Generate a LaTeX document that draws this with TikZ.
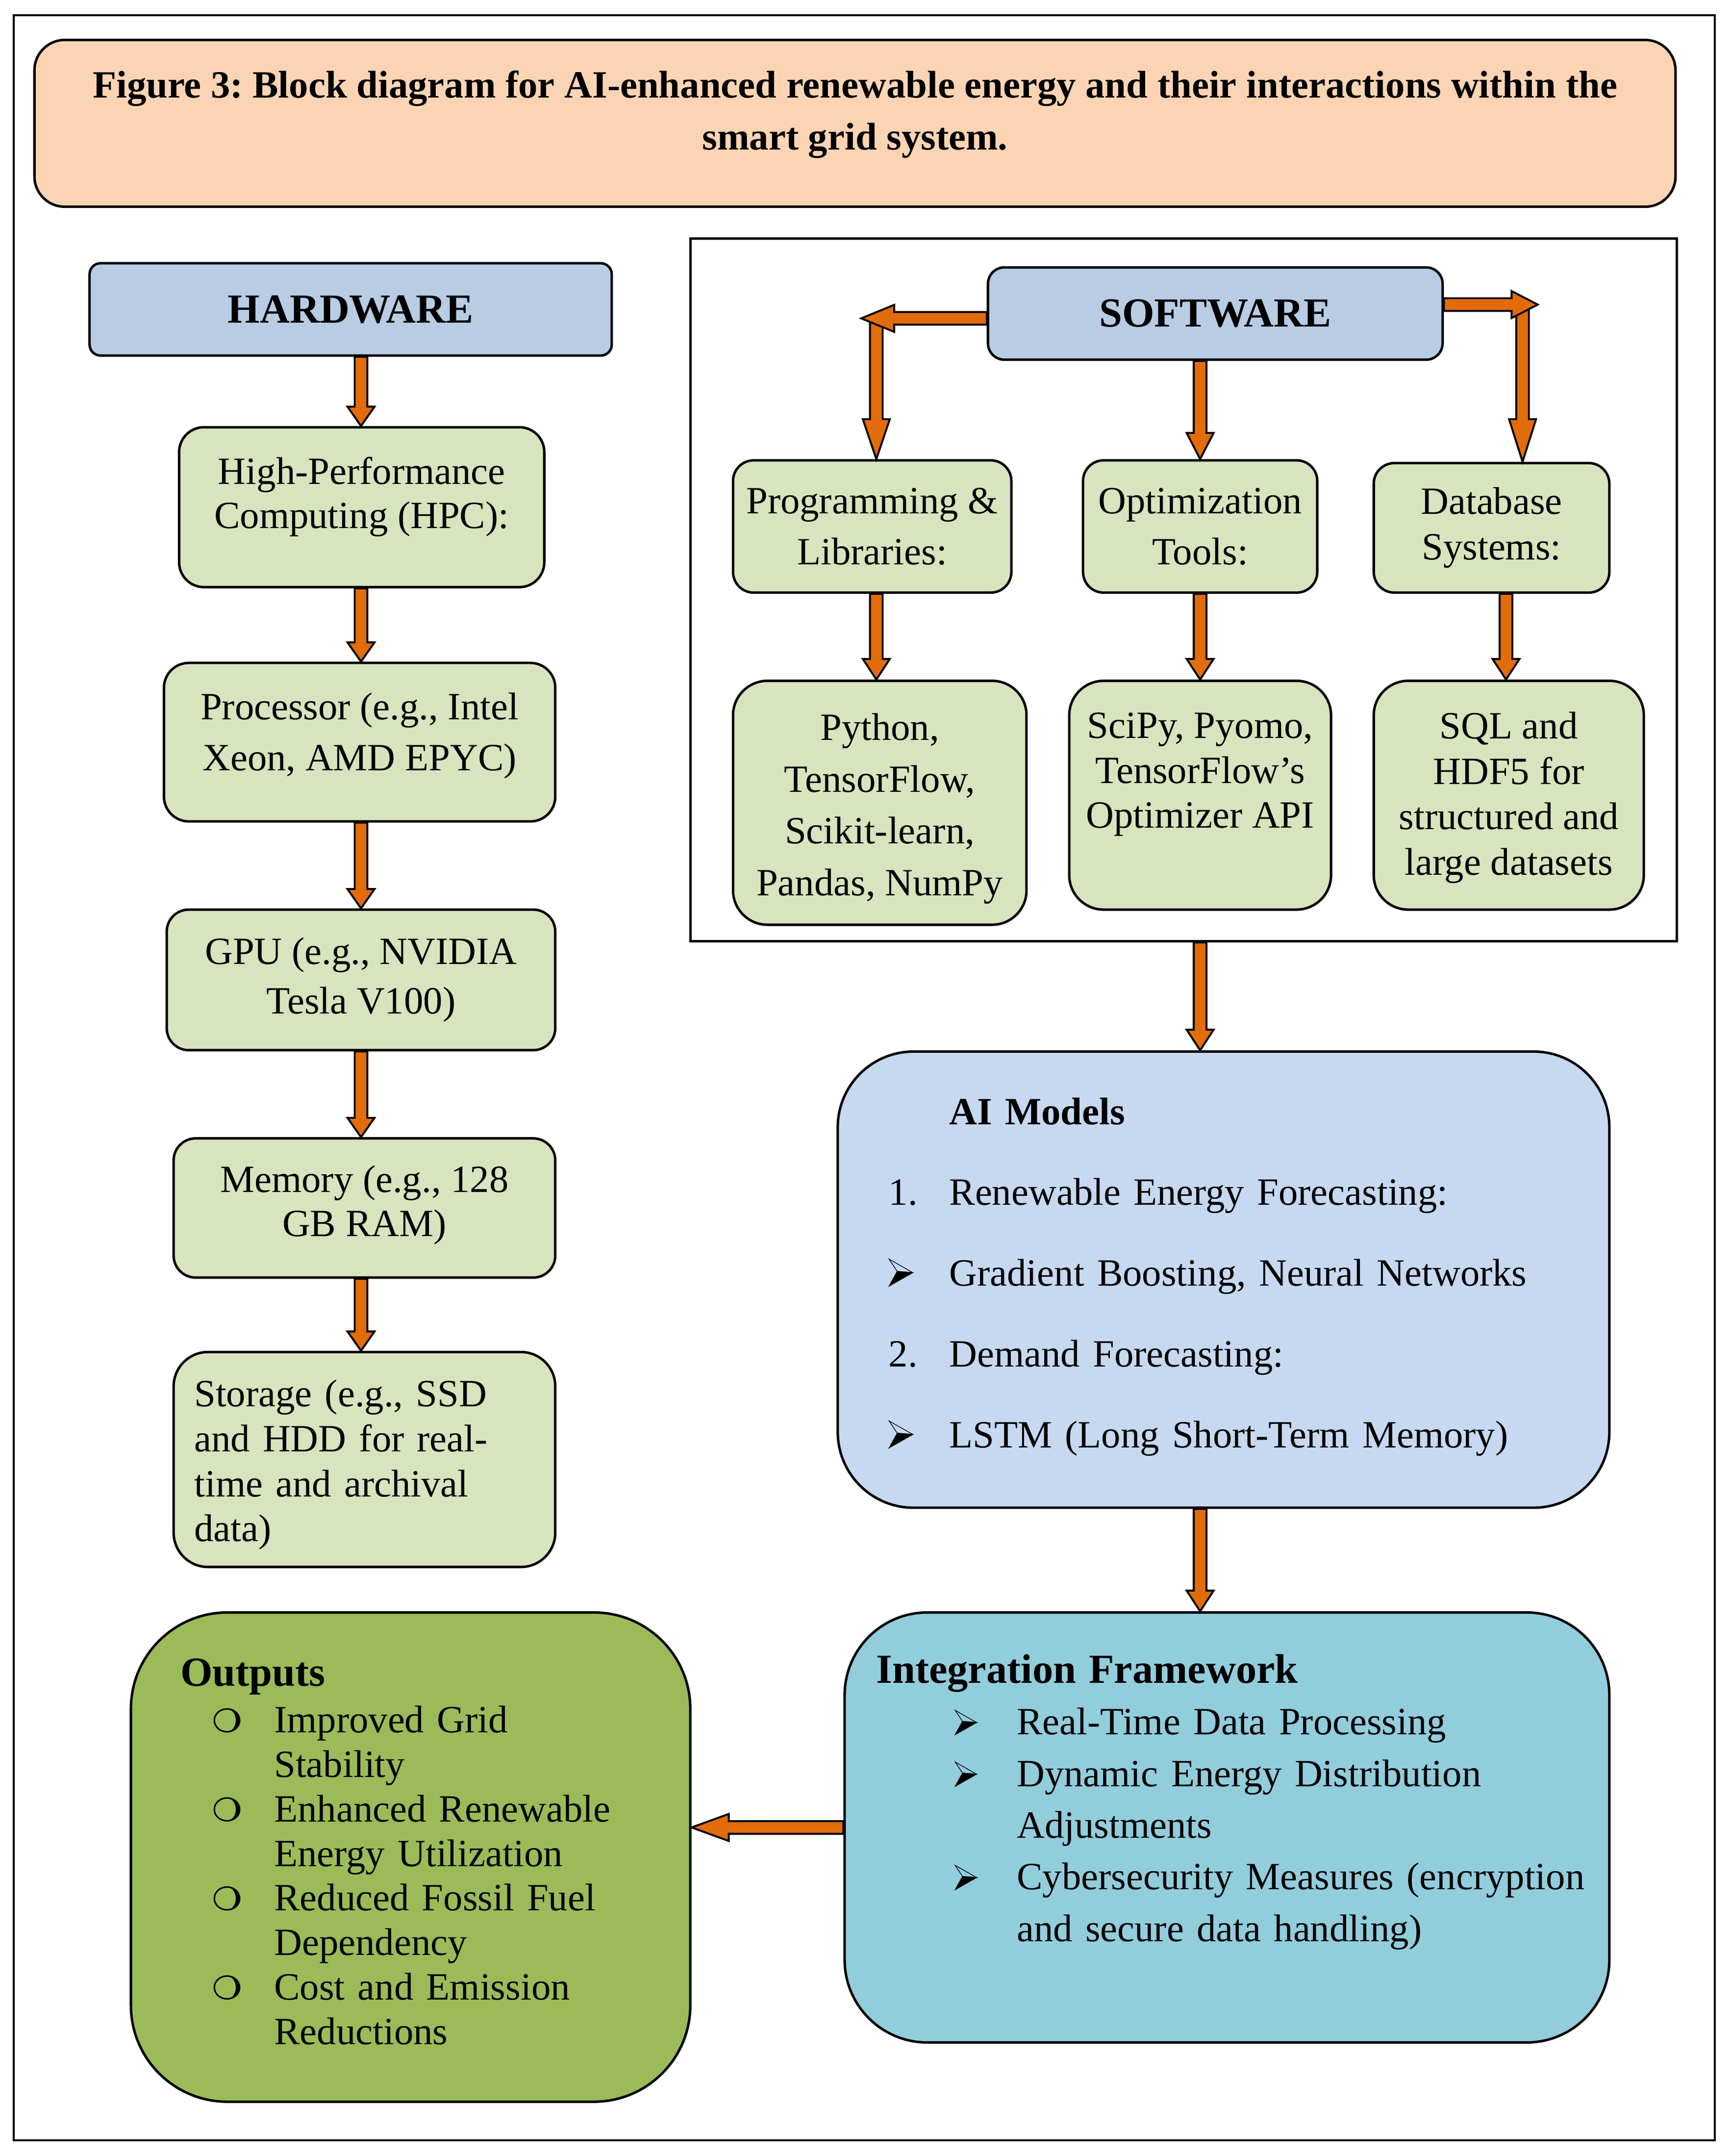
\documentclass[tikz,border=0pt]{standalone}
\usepackage{fontspec}
\setmainfont{Liberation Serif}
\usetikzlibrary{calc}
\definecolor{peach}{HTML}{FBD4B4}
\definecolor{hdrblue}{HTML}{B8CCE4}
\definecolor{lgreen}{HTML}{D7E4BD}
\definecolor{aiblue}{HTML}{C6D9F1}
\definecolor{aquabox}{HTML}{92CDDC}
\definecolor{outgreen}{HTML}{9BBB59}
\definecolor{arrorange}{HTML}{E36C0A}
\newsavebox\arrAbox
\newsavebox\arrIbox
\newsavebox\circbox
\newcommand{\arrowglyph}[1]{\begin{pgfpicture}\pgfsetbaseline{0pt}\pgftransformscale{#1}%
 \pgfsetlinewidth{0.5pt}\pgfsetmiterjoin
 \pgfpathmoveto{\pgfpoint{5.9pt}{10.7pt}}\pgfpathlineto{\pgfpoint{17.2pt}{9.8pt}}\pgfpathlineto{\pgfpoint{0pt}{0pt}}\pgfpathclose\pgfusepath{fill,stroke}%
 \pgfpathmoveto{\pgfpoint{0pt}{19.6pt}}\pgfpathlineto{\pgfpoint{17.2pt}{9.8pt}}\pgfpathlineto{\pgfpoint{5.9pt}{10.7pt}}\pgfpathclose\pgfusepath{stroke}%
 \end{pgfpicture}}
\newcommand{\arrb}{\usebox\arrAbox}
\newcommand{\arri}{\usebox\arrIbox}
\newcommand{\circb}{\usebox\circbox}
\begin{document}
\frenchspacing
\sbox\arrAbox{\arrowglyph{1}}%
\sbox\arrIbox{\arrowglyph{0.9}}%
\sbox\circbox{\begin{pgfpicture}\pgfsetbaseline{0pt}%
 \pgfsetlinewidth{1.1pt}%
 \pgfpathellipse{\pgfpoint{10pt}{9pt}}{\pgfpoint{9.2pt}{0pt}}{\pgfpoint{0pt}{8.3pt}}\pgfusepath{stroke}%
 \pgfpathmoveto{\pgfpoint{10pt}{17.3pt}}\pgfpatharc{90}{-90}{9.2pt and 8.3pt}\pgfpatharc{-90}{90}{6.4pt and 8.3pt}\pgfpathclose\pgfusepath{fill}%
 \end{pgfpicture}}%
\begin{tikzpicture}[x=1pt,y=-1pt,
  rbox/.style={draw=black, line width=1.8pt, rounded corners=#1, inner sep=0pt, align=center, font=\fontsize{28}{32}\selectfont},
  rbox/.default=18pt,
  hdr/.style={rbox=#1, fill=hdrblue, font=\fontsize{30}{34}\selectfont\bfseries},
  gbox/.style={rbox=#1, fill=lgreen},
  lsp/.style={font=\fontsize{28}{#1}\selectfont},
  conn/.style={draw=black, fill=arrorange, line width=1.4pt, line join=miter},
  blockarrow/.style={to path={
    let \p1=(\tikztostart), \p2=(\tikztotarget), \p3=($(\p2)!#1!(\p1)$) in
    ($(\p1)!4.6pt!90:(\p2)$) -- ($(\p3)!4.6pt!-90:(\p1)$) -- ($(\p3)!9.8pt!-90:(\p1)$) -- (\p2)
    -- ($(\p3)!9.8pt!90:(\p1)$) -- ($(\p3)!4.6pt!90:(\p1)$) -- ($(\p1)!4.6pt!-90:(\p2)$) -- cycle}},
  blockarrow/.default=14pt]
\useasboundingbox (0,0) rectangle (1256,1564.4);
\node[draw=black, line width=1.2pt, minimum width=1234.5pt, minimum height=1542pt, inner sep=0pt] (frame) at (627.25,782) {};
% title
\node[rbox=22pt, fill=peach, minimum width=1191pt, minimum height=121pt, font=\fontsize{28}{38}\selectfont\bfseries] (title) at (620.5,89.5)
  {Figure 3: Block diagram for AI-enhanced renewable energy and their interactions within the\\smart grid system.\rule[-19pt]{0pt}{0pt}};
% hardware column
\node[hdr=8pt, minimum width=379pt, minimum height=67pt] (hw) at (254.5,224.5) {HARDWARE};
\node[gbox=18pt, minimum width=265pt, minimum height=116pt, lsp=32pt] (hpc) at (262.5,368) {High-Performance\\Computing (HPC):\rule[-21pt]{0pt}{0pt}};
\node[gbox=18pt, minimum width=284pt, minimum height=115pt, lsp=37pt] (cpu) at (261,538.5) {Processor (e.g., Intel\\Xeon, AMD EPYC)\rule[-15pt]{0pt}{0pt}};
\node[gbox=16pt, minimum width=282pt, minimum height=102pt, lsp=36pt] (gpu) at (262,711) {GPU (e.g., NVIDIA\\Tesla V100)};
\node[gbox=16pt, minimum width=277pt, minimum height=101pt, lsp=32pt] (mem) at (264.5,876.5) {Memory (e.g., 128\\GB RAM)\rule[-10pt]{0pt}{0pt}};
\node[gbox=25pt, minimum width=277pt, minimum height=156pt, text width=247pt, inner xsep=15pt, align=left, lsp=32.7pt] (sto) at (264.5,1059)
  {\rule{0pt}{27pt}Storage (e.g., SSD\\and HDD for real-\\time and archival\\data)};
% software frame and column
\node[draw=black, line width=1.8pt, minimum width=716pt, minimum height=510pt, inner sep=0pt] (swframe) at (859,428) {};
\node[hdr=12pt, minimum width=330pt, minimum height=67pt] (sw) at (882,227.5) {SOFTWARE};
\node[gbox=15pt, minimum width=202pt, minimum height=96pt, lsp=37pt] (prog) at (633,382) {Programming \&\\Libraries:};
\node[gbox=15pt, minimum width=170pt, minimum height=96pt, lsp=37pt] (opt) at (871,382) {Optimization\\Tools:};
\node[gbox=15pt, minimum width=171pt, minimum height=94pt, lsp=33pt] (db) at (1082.5,383) {Database\\Systems:};
\node[gbox=25pt, minimum width=213pt, minimum height=177pt, lsp=37.5pt] (py) at (638.5,582.5) {\rule{0pt}{28pt}Python,\\TensorFlow,\\Scikit-learn,\\Pandas, NumPy};
\node[gbox=25pt, minimum width=190pt, minimum height=166pt, lsp=32.5pt] (sci) at (871,577) {SciPy, Pyomo,\\TensorFlow’s\\Optimizer API\rule[-36pt]{0pt}{0pt}};
\node[gbox=25pt, minimum width=196pt, minimum height=166pt, lsp=33pt] (sql) at (1095,577) {\rule{0pt}{23pt}SQL and\\HDF5 for\\structured and\\large datasets};
% AI models
\node[rbox=55pt, fill=aiblue, minimum width=560pt, minimum height=331pt, text width=486pt, inner xsep=37pt, align=left, lsp=58.7pt] (ai) at (888,928.5) {%
\hspace*{44pt}{\bfseries AI Models}\\
\makebox[44pt][l]{1.}Renewable Energy Forecasting:\\
\makebox[44pt][l]{\arrb}Gradient Boosting, Neural Networks\\
\makebox[44pt][l]{2.}Demand Forecasting:\\
\makebox[44pt][l]{\arrb}LSTM (Long Short-Term Memory)\rule[-10pt]{0pt}{0pt}};
% integration framework
\node[rbox=60pt, fill=aquabox, minimum width=555pt, minimum height=312pt, text width=509pt, inner xsep=23pt, align=left, lsp=37.5pt] (intf) at (890.5,1326) {%
{\fontsize{30}{34}\selectfont\bfseries Integration Framework}\\
\hspace*{57pt}\makebox[45pt][l]{\arri}Real-Time Data Processing\\
\hspace*{57pt}\makebox[45pt][l]{\arri}Dynamic Energy Distribution\\
\hspace*{102pt}Adjustments\\
\hspace*{57pt}\makebox[45pt][l]{\arri}\mbox{Cybersecurity Measures (encryption}\\
\hspace*{102pt}and secure data handling)\rule[-43pt]{0pt}{0pt}};
% outputs
\node[rbox=70pt, fill=outgreen, minimum width=406pt, minimum height=355pt, text width=334pt, inner xsep=36pt, align=left, lsp=32.3pt] (out) at (298,1347.5) {%
{\fontsize{30}{34}\selectfont\bfseries Outputs}\\[1.5pt]
\hspace*{24pt}\makebox[44pt][l]{\circb}Improved Grid\\
\hspace*{68pt}Stability\\
\hspace*{24pt}\makebox[44pt][l]{\circb}Enhanced Renewable\\
\hspace*{68pt}Energy Utilization\\
\hspace*{24pt}\makebox[44pt][l]{\circb}Reduced Fossil Fuel\\
\hspace*{68pt}Dependency\\
\hspace*{24pt}\makebox[44pt][l]{\circb}Cost and Emission\\
\hspace*{68pt}Reductions\rule[-8pt]{0pt}{0pt}};
% connectors
\coordinate (hwcol) at (262,0);
\path[conn] (hw.south -| hwcol) to[blockarrow] (hpc.north -| hwcol);
\path[conn] (hpc.south -| hwcol) to[blockarrow] (cpu.north -| hwcol);
\path[conn] (cpu.south -| hwcol) to[blockarrow] (gpu.north -| hwcol);
\path[conn] (gpu.south -| hwcol) to[blockarrow] (mem.north -| hwcol);
\path[conn] (mem.south -| hwcol) to[blockarrow] (sto.north -| hwcol);
\coordinate (swl) at (625,231);
\coordinate (swlv) at (636,234);
\coordinate (swr) at (1116,221);
\coordinate (swrv) at (1105,224);
\path[conn] (swlv) to[blockarrow=29pt] (prog.north -| swlv);
\path[conn] (sw.west |- swl) to[blockarrow=24pt] (swl);
\path[conn] (swrv) to[blockarrow=31pt] (db.north -| swrv);
\path[conn] (sw.east |- swr) to[blockarrow=19pt] (swr);
\path[conn] (sw.south -| opt.north) to[blockarrow=19pt] (opt.north);
\coordinate (pcol) at (636,0);
\coordinate (dcol) at (1093,0);
\path[conn] (prog.south -| pcol) to[blockarrow=15pt] (py.north -| pcol);
\path[conn] (opt.south) to[blockarrow=15pt] (sci.north);
\path[conn] (db.south -| dcol) to[blockarrow=15pt] (sql.north -| dcol);
\path[conn] (swframe.south -| sci.north) to[blockarrow=15pt] (ai.north -| sci.north);
\path[conn] (ai.south -| sci.north) to[blockarrow=15pt] (intf.north -| sci.north);
\path[conn] (intf.west) to[blockarrow=27pt] (out.east |- intf.west);
\end{tikzpicture}
\end{document}
